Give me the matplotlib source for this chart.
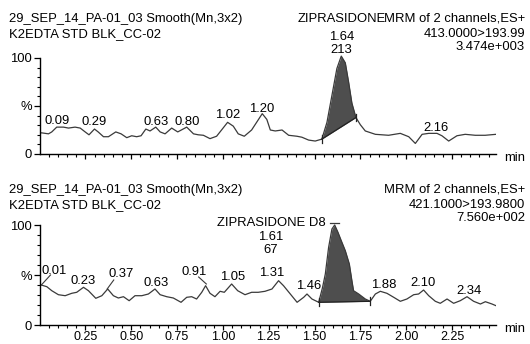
import numpy as np
import matplotlib.pyplot as plt

plt.rcParams['font.family'] = ['Liberation Sans', 'DejaVu Sans']
FS = 9.4

# top channel: ZIPRASIDONE
top_t = [0.0, 0.013, 0.049, 0.067, 0.094, 0.131, 0.158, 0.194, 0.222, 0.249, 0.27, 0.30, 0.32,
         0.349, 0.376, 0.416, 0.445, 0.476, 0.503, 0.53, 0.554, 0.58, 0.603, 0.634, 0.658,
         0.685, 0.721, 0.754, 0.803, 0.84, 0.866, 0.894, 0.93, 0.966, 0.993, 1.026, 1.057,
         1.084, 1.117, 1.157, 1.215, 1.24, 1.259, 1.286, 1.323, 1.359, 1.404, 1.431, 1.468,
         1.504, 1.54, 1.568, 1.595, 1.622, 1.646, 1.668, 1.686, 1.704, 1.726, 1.75, 1.777,
         1.832, 1.904, 1.968, 2.014, 2.05, 2.087, 2.123, 2.168, 2.195, 2.232, 2.277, 2.322,
         2.377, 2.431, 2.49]
top_y = [22, 22, 21, 23, 28, 28, 27, 28, 27, 23, 20, 26, 23,
         18, 18, 23, 21, 17, 19, 18, 19, 26, 24, 28, 23,
         21, 27, 23, 28, 21, 20, 19.5, 16, 18.5, 25, 33, 29,
         21, 18.5, 25, 42, 36, 25, 24, 25, 19.5, 18.5, 17.5, 14.5,
         13.5, 15.5, 33, 61, 89, 102, 95, 75, 53, 38, 30.5, 24,
         20.5, 19.5, 21.5, 18, 11, 20.5, 21.5, 21.5, 19, 13.5, 19, 20.5,
         19.5, 19.5, 20.5]
top_peak = (1.54, 1.726)
top_labels = ['0.09', '0.29', '0.63', '0.80', '1.02', '1.20', '2.16']
top_lab_x = [0.098, 0.298, 0.634, 0.807, 1.025, 1.21, 2.16]
top_lab_y = [31, 30, 30, 30, 37, 43.5, 24]

# bottom channel: ZIPRASIDONE D8
bot_t = [0.0, 0.004, 0.04, 0.067, 0.103, 0.14, 0.176, 0.203, 0.24, 0.267, 0.307, 0.34, 0.372,
         0.403, 0.43, 0.458, 0.489, 0.521, 0.558, 0.594, 0.63, 0.658, 0.694, 0.73, 0.772,
         0.803, 0.83, 0.857, 0.885, 0.906, 0.93, 0.957, 0.985, 1.008, 1.048, 1.081, 1.121,
         1.157, 1.193, 1.23, 1.268, 1.304, 1.331, 1.368, 1.405, 1.441, 1.459, 1.486, 1.523,
         1.544, 1.559, 1.577, 1.595, 1.61, 1.628, 1.646, 1.668, 1.69, 1.704, 1.713, 1.741,
         1.777, 1.804, 1.832, 1.859, 1.895, 1.932, 1.968, 2.004, 2.041, 2.068, 2.095, 2.123,
         2.159, 2.186, 2.223, 2.259, 2.295, 2.332, 2.368, 2.405, 2.432, 2.468, 2.49]
bot_y = [41, 40.3, 38.3, 34.3, 30.3, 29.3, 31.7, 32.7, 37.7, 34.3, 26.7, 29.3, 36,
         29.3, 27, 28.3, 24.3, 29.3, 29.3, 31, 36, 30.3, 28.3, 27, 22.7,
         27.7, 28.3, 26, 32.7, 39.3, 31.7, 28.3, 33.7, 32.7, 41, 34.3, 30.3,
         32.7, 32.7, 33.7, 36, 44.3, 39.3, 31, 22.7, 27.7, 31, 26, 22.7,
         37.7, 51, 77.7, 96, 100, 92.7, 84.3, 74.3, 61, 44.3, 34.3, 31,
         26, 23.7, 31, 33.7, 31.7, 27.7, 23.7, 26, 30.3, 31, 35, 29.3,
         23.7, 21.7, 26, 21.7, 24.3, 28.3, 23.7, 21, 23.3, 21, 19.3]
bot_peak = (1.523, 1.804)
bot_labels = ['0.01', '0.23', '0.37', '0.63', '0.91', '1.05', '1.31', '1.46', '1.88', '2.10', '2.34']
bot_lab_x = [0.078, 0.237, 0.447, 0.636, 0.841, 1.054, 1.267, 1.466, 1.88, 2.094, 2.343]
bot_lab_y = [51, 41, 48, 39, 50, 45, 49, 36, 37, 39, 31]
# leader lines from peak to displaced label
bot_leaders = [((0.01, 40), (0.06, 50)), ((0.369, 36), (0.405, 45)), ((0.91, 41), (0.868, 48))]

W, H = 530, 344
fig = plt.figure(figsize=(W / 100, H / 100), dpi=100)
x0, x1 = 39.5 / W, 496 / W
ax1 = fig.add_axes([x0, 1 - 154 / H, x1 - x0, 108 * 0.96 / H])
ax2 = fig.add_axes([x0, 1 - 325 / H, x1 - x0, 106 / H])

line_c = '#3a3a3a'
for ax, t, y, (a, b), top in [(ax1, top_t, top_y, top_peak, 108), (ax2, bot_t, bot_y, bot_peak, 106)]:
    t = np.array(t)
    y = np.array(y, dtype=float)
    ax.plot(t, y, color=line_c, lw=0.9)
    ya, yb = np.interp(a, t, y), np.interp(b, t, y)
    m = (t >= a) & (t <= b)
    tt = np.concatenate([[a], t[m], [b]])
    yy = np.concatenate([[ya], y[m], [yb]])
    base = ya + (yb - ya) * (tt - a) / (b - a)
    ax.fill_between(tt, base, yy, color='#4e4e4e', lw=0)
    ax.plot([a, b], [ya, yb], color='#222222', lw=0.9)
    ax.plot([a, a], [ya - 4, ya + 4], color='#222222', lw=0.9)
    ax.plot([b, b], [yb - 4, yb + 4], color='#222222', lw=0.9)

    ax.set_xlim(0, 2.49)
    ax.set_ylim(0, top)
    for s in ['top', 'right']:
        ax.spines[s].set_visible(False)
    ax.spines['left'].set_bounds(0, 100)
    ax.spines['left'].set_linewidth(1.0)
    ax.spines['bottom'].set_linewidth(1.0)
    ax.set_yticks([0, 50, 100])
    ax.set_yticklabels(['0', '%', '100'], fontsize=FS)
    ax.set_yticks(np.arange(0, 101, 10), minor=True)
    ax.set_xticks(np.arange(0.25, 2.26, 0.25))
    ax.set_xticks(np.arange(0.05, 2.49, 0.05), minor=True)
    ax.tick_params(axis='y', which='major', length=4, width=0.9, pad=1.5)
    ax.tick_params(axis='y', which='minor', length=2, width=0.8)
    ax.tick_params(axis='x', which='major', length=3.5, width=0.9, pad=0.5)
    ax.tick_params(axis='x', which='minor', length=2.5, width=0.8)
    ax.annotate('min', xy=(1, 0), xycoords='axes fraction', xytext=(6, -3),
                textcoords='offset points', ha='left', va='center', fontsize=FS)

ax1.set_xticklabels([])
ax2.set_xticklabels(['%.2f' % v for v in np.arange(0.25, 2.26, 0.25)], fontsize=9)

for lab, lx, ly in zip(top_labels, top_lab_x, top_lab_y):
    ax1.text(lx, ly, lab, ha='center', va='baseline', fontsize=FS)
for lab, lx, ly in zip(bot_labels, bot_lab_x, bot_lab_y):
    ax2.text(lx, ly, lab, ha='center', va='baseline', fontsize=FS)
for (pa, pb) in bot_leaders:
    ax2.plot([pa[0], pb[0]], [pa[1], pb[1]], color=line_c, lw=0.8)

# peak identification labels
ax1.text(1.647, 137.5, 'ZIPRASIDONE', ha='center', va='baseline', fontsize=FS)
ax1.text(1.647, 119, '1.64', ha='center', va='baseline', fontsize=FS)
ax1.text(1.647, 105, '213', ha='center', va='baseline', fontsize=FS)
ax2.text(1.267, 99, 'ZIPRASIDONE D8', ha='center', va='baseline', fontsize=FS)
ax2.text(1.259, 85, '1.61', ha='center', va='baseline', fontsize=FS)
ax2.text(1.259, 72, '67', ha='center', va='baseline', fontsize=FS)
ax2.plot([1.585, 1.635], [102, 102], color=line_c, lw=0.9)

# headers
lx, rx = 9 / W, 525 / W
for off, chan, scale in [(0, '413.0000>193.99', '3.474e+003'), (171, '421.1000>193.9800', '7.560e+002')]:
    fig.text(lx, 1 - (21.7 + off) / H, '29_SEP_14_PA-01_03 Smooth(Mn,3x2)', fontsize=FS, va='baseline')
    fig.text(lx, 1 - (36.7 + off) / H, 'K2EDTA STD BLK_CC-02', fontsize=FS, va='baseline')
    fig.text(rx, 1 - (21.7 + off) / H, 'MRM of 2 channels,ES+', fontsize=FS, va='baseline', ha='right')
    fig.text(rx, 1 - (36.7 + off) / H, chan, fontsize=FS, va='baseline', ha='right')
    fig.text(rx, 1 - (50 + off) / H, scale, fontsize=FS, va='baseline', ha='right')

fig.savefig('out.png', dpi=100)
